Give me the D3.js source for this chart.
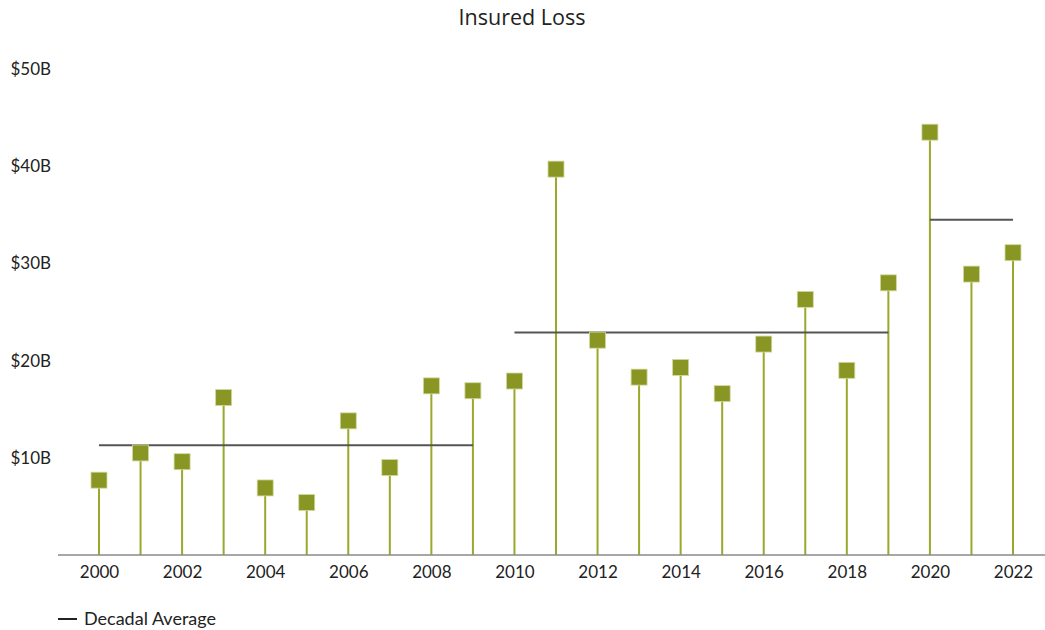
<!DOCTYPE html>
<html>
<head>
<meta charset="utf-8">
<script src="https://cdn.jsdelivr.net/npm/d3@7"></script>
<style>
  html, body { margin: 0; padding: 0; background: #fff; }
  svg { display: block; }
</style>
</head>
<body>
<svg id="chart" width="1045" height="630"></svg>
<script>
// Insured loss per year, in billions of dollars
const years = [2000, 2001, 2002, 2003, 2004, 2005, 2006, 2007, 2008, 2009,
               2010, 2011, 2012, 2013, 2014, 2015, 2016, 2017, 2018, 2019,
               2020, 2021, 2022];
const losses = [7.7, 10.5, 9.6, 16.2, 6.9, 5.4, 13.8, 9.0, 17.4, 16.9,
                17.9, 39.7, 22.1, 18.3, 19.3, 16.6, 21.7, 26.3, 19.0, 28.0,
                43.5, 28.9, 31.1];

// Decadal averages and the span of years each covers
const decadeStart = [2000, 2010, 2020];
const decadeEnd = [2009, 2019, 2022];
const decadeAvg = [11.3, 22.9, 34.5];

const yTicks = [10, 20, 30, 40, 50];
const xTicks = [2000, 2002, 2004, 2006, 2008, 2010, 2012, 2014, 2016, 2018, 2020, 2022];

const svg = d3.select("#chart");
const font = "Lato, 'Noto Sans', sans-serif";

const x = d3.scaleLinear().domain([2000, 2022]).range([99, 1013]);
const y = d3.scaleLinear().domain([0, 50]).range([555, 69]);

// Title
svg.append("text")
  .attr("x", 522).attr("y", 25)
  .attr("text-anchor", "middle")
  .attr("font-family", "'Open Sans', 'Noto Sans', sans-serif")
  .attr("font-size", 21.5)
  .attr("fill", "#222")
  .text("Insured Loss");

// Y axis labels (no line)
const yAxis = d3.axisLeft(y).tickValues(yTicks).tickSize(0).tickPadding(0)
  .tickFormat(d => `$${d}B`);
svg.append("g")
  .attr("transform", "translate(51,0)")
  .call(yAxis)
  .call(g => g.select(".domain").remove())
  .call(g => g.selectAll("text")
    .attr("font-family", font).attr("font-size", 17).attr("fill", "#222"));

// X axis
const xAxis = d3.axisBottom(x).tickValues(xTicks).tickSize(0).tickPadding(11)
  .tickFormat(d3.format("d"));
svg.append("g")
  .attr("transform", "translate(0,555)")
  .call(xAxis)
  .call(g => g.select(".domain").remove())
  .call(g => g.selectAll("text")
    .attr("font-family", font).attr("font-size", 17).attr("fill", "#222"));

const data = years.map((yr, i) => ({ year: yr, value: losses[i] }));

// Stems
svg.append("g").selectAll("line")
  .data(data).join("line")
  .attr("x1", d => x(d.year)).attr("x2", d => x(d.year))
  .attr("y1", y(0)).attr("y2", d => y(d.value))
  .attr("stroke", "#9aa82c")
  .attr("stroke-width", 2);

// Baseline
svg.append("line")
  .attr("x1", 58).attr("x2", 1045)
  .attr("y1", y(0)).attr("y2", y(0))
  .attr("stroke", "#8a8a8a")
  .attr("stroke-width", 1.5);

// Decadal average lines
const avgs = decadeAvg.map((v, i) => ({ start: decadeStart[i], end: decadeEnd[i], value: v }));
svg.append("g").selectAll("line")
  .data(avgs).join("line")
  .attr("x1", d => x(d.start)).attr("x2", d => x(d.end))
  .attr("y1", d => y(d.value)).attr("y2", d => y(d.value))
  .attr("stroke", "#555")
  .attr("stroke-width", 2);

// Square markers
const s = 16;
svg.append("g").selectAll("rect")
  .data(data).join("rect")
  .attr("x", d => x(d.year) - s / 2)
  .attr("y", d => y(d.value) - s / 2)
  .attr("width", s).attr("height", s)
  .attr("fill", "#8a9623")
  .attr("stroke", "#d2d9a0")
  .attr("stroke-width", 0.8);

// Legend
svg.append("line")
  .attr("x1", 58).attr("x2", 77)
  .attr("y1", 619).attr("y2", 619)
  .attr("stroke", "#222").attr("stroke-width", 2);
svg.append("text")
  .attr("x", 84).attr("y", 625)
  .attr("font-family", font).attr("font-size", 18)
  .attr("fill", "#222")
  .text("Decadal Average");
</script>
</body>
</html>
